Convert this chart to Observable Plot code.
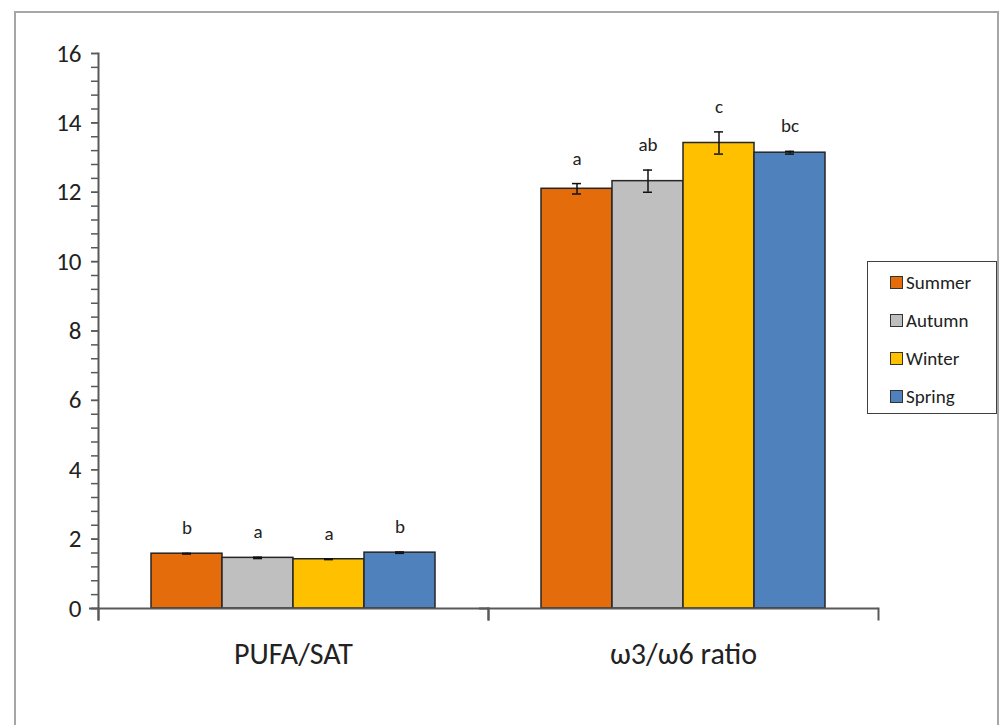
<!DOCTYPE html>
<html>
<head>
<meta charset="utf-8">
<script src="https://cdn.jsdelivr.net/npm/d3@7"></script>
<script src="https://cdn.jsdelivr.net/npm/@observablehq/plot@0.6"></script>
<style>
  html, body { margin: 0; padding: 0; background: #fff; }
  body { position: relative; width: 1003px; height: 725px; overflow: hidden;
         font-family: Carlito, "Open Sans", sans-serif; }
  #frame { position: absolute; left: 14px; top: 11px; width: 985px; height: 760px;
           border: 2px solid #a6a6a6; box-sizing: border-box; }
  #chart { position: absolute; left: 0; top: 0; }
  #legend { position: absolute; left: 867px; top: 261px; width: 130px; height: 153px;
            border: 1.5px solid #404040; box-sizing: border-box; background: #fff; }
  .item { position: absolute; left: 22px; height: 22px; display: flex; align-items: center;
          font-size: 19px; color: #222; }
  .sw { width: 11px; height: 11px; border: 1.5px solid #333; margin-right: 3px; }
</style>
</head>
<body>
<div id="frame"></div>
<div id="chart"></div>
<div id="legend"></div>
<script>
const categories = ["PUFA/SAT", "ω3/ω6 ratio"];
const seasons = ["Summer", "Autumn", "Winter", "Spring"];
const seasonColors = ["#E46C0A", "#BFBFBF", "#FFC000", "#4F81BD"];

const pufaSat = [1.58, 1.46, 1.42, 1.61];
const pufaSatErr = [0.01, 0.02, 0.01, 0.02];
const pufaSatLetters = ["b", "a", "a", "b"];

const w3w6 = [12.10, 12.32, 13.42, 13.14];
const w3w6Err = [0.15, 0.32, 0.32, 0.04];
const w3w6Letters = ["a", "ab", "c", "bc"];

const yMajorTicks = [0, 2, 4, 6, 8, 10, 12, 14, 16];
const yMinorTicks = d3.range(0, 41).map(i => +(i * 0.4).toFixed(1));

const rows = [];
seasons.forEach((s, i) => {
  rows.push({cat: categories[0], season: s, value: pufaSat[i], err: pufaSatErr[i], letter: pufaSatLetters[i]});
  rows.push({cat: categories[1], season: s, value: w3w6[i], err: w3w6Err[i], letter: w3w6Letters[i]});
});

const W = 1003, H = 725;
const mTop = 53, mBottom = 117, mLeft = 97, mRight = 125;
const axisColor = "#595959";
const font = 'Carlito, "Open Sans", sans-serif';

const chart = Plot.plot({
  width: W,
  height: H,
  marginTop: mTop,
  marginBottom: mBottom,
  marginLeft: mLeft,
  marginRight: mRight,
  style: {fontFamily: font, background: "transparent", overflow: "visible"},
  fx: {domain: categories, paddingInner: 0, paddingOuter: 0, axis: null, label: null},
  x: {domain: seasons, paddingInner: 0, paddingOuter: 0.73, axis: null},
  y: {domain: [0, 16], axis: null, label: null},
  color: {domain: seasons, range: seasonColors},
  marks: [
    Plot.barY(rows, {fx: "cat", x: "season", y: "value", fill: "season", stroke: "#262626", strokeWidth: 1.5}),
    Plot.ruleX(rows, {fx: "cat", x: "season", y1: d => d.value - d.err, y2: d => d.value + d.err, stroke: "#111", strokeWidth: 1.5}),
    Plot.tickY(rows, {fx: "cat", x: "season", y: d => d.value + d.err, stroke: "#111", strokeWidth: 1.5, insetLeft: 31, insetRight: 31}),
    Plot.tickY(rows, {fx: "cat", x: "season", y: d => d.value - d.err, stroke: "#111", strokeWidth: 1.5, insetLeft: 31, insetRight: 31}),
    Plot.text(rows, {fx: "cat", x: "season", y: d => d.value + d.err, text: "letter", dy: -25, fontSize: 19, fill: "#222"}),
    // x axis line
    Plot.ruleY([0], {stroke: axisColor, strokeWidth: 2, insetLeft: -9}),
    // category boundary ticks
    Plot.frame({anchor: "right", stroke: axisColor, strokeWidth: 2, insetTop: H - mTop - mBottom, insetBottom: -11}),
    Plot.frame({anchor: "left", stroke: axisColor, strokeWidth: 2, insetTop: H - mTop - mBottom, insetBottom: -11}),
    // y axis line
    Plot.frame({anchor: "left", fx: () => categories[0], stroke: axisColor, strokeWidth: 2, insetBottom: -11}),
    Plot.axisY({ticks: yMinorTicks, tickSize: 7, tickFormat: () => "", stroke: axisColor, strokeWidth: 1.5, label: null}),
    Plot.axisY({ticks: yMajorTicks, tickSize: 7, tickPadding: 10, fontSize: 25, fill: "#222", stroke: axisColor, strokeWidth: 1.5, label: null}),
    Plot.axisFx({anchor: "bottom", tickSize: 0, tickPadding: 34, fontSize: 30, fill: "#222", label: null})
  ]
});
document.getElementById("chart").appendChild(chart);

const legend = document.getElementById("legend");
seasons.forEach((s, i) => {
  const it = document.createElement("div");
  it.className = "item";
  it.style.top = (9 + i * 38) + "px";
  const sw = document.createElement("div");
  sw.className = "sw";
  sw.style.background = seasonColors[i];
  const t = document.createElement("span");
  t.textContent = s;
  it.appendChild(sw);
  it.appendChild(t);
  legend.appendChild(it);
});
</script>
</body>
</html>
